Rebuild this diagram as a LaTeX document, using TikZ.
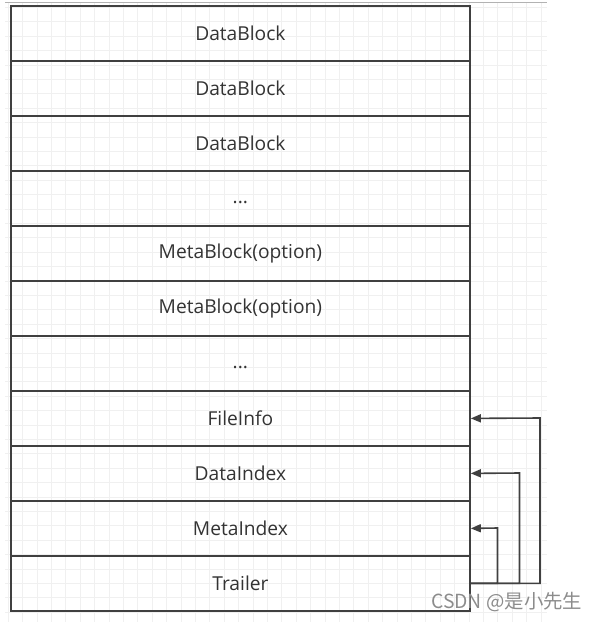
\documentclass[tikz,border=0pt]{standalone}
\usepackage{fontspec}
\setmainfont{Open Sans}
\newfontfamily\cjkfont{Noto Sans CJK SC}
\usetikzlibrary{arrows.meta}
\definecolor{linec}{HTML}{404040}
\definecolor{gridc}{HTML}{F0F0F0}
\tikzset{
  blk/.style={draw=linec, line width=1.8pt, minimum width=459pt, minimum height=55pt, inner sep=0pt, font=\fontsize{19.2}{22}\selectfont, text=black!80, anchor=north west},
  conn/.style={draw=linec, line width=1.6pt, -{Triangle[length=10pt,width=8pt]}},
}
\begin{document}
\begin{tikzpicture}[x=1pt,y=-1pt]
\useasboundingbox (0,0) rectangle (598,622);
% faint background grid
\foreach \i in {0,...,37} {
  \draw[gridc, line width=0.8pt] ({8.1+14.4*\i},3) -- ({8.1+14.4*\i},622);
}
\foreach \j in {0,...,42} {
  \draw[gridc, line width=0.8pt] (5,{7.3+14.4*\j}) -- (547,{7.3+14.4*\j});
}
\draw[gray!60, line width=1pt] (5,2.5) -- (547,2.5);
% blocks
\node[blk] (b1) at (10,5) {DataBlock};
\node[blk] (b2) at (10,60) {DataBlock};
\node[blk] (b3) at (10,115) {DataBlock};
\node[blk, text height=10pt, text depth=0pt] (b4) at (10,170) {...};
\node[blk] (b5) at (10,225) {MetaBlock(option)};
\node[blk] (b6) at (10,280) {MetaBlock(option)};
\node[blk, text height=10pt, text depth=0pt] (b7) at (10,335) {...};
\node[blk] (fi) at (10,390) {FileInfo};
\node[blk] (di) at (10,445) {DataIndex};
\node[blk] (mi) at (10,500) {MetaIndex};
\node[blk] (tr) at (10,555) {Trailer};
% connectors
\coordinate (c1) at (540,418);
\coordinate (c2) at (519.5,473);
\coordinate (c3) at (497.5,528);
\draw[conn] (tr.east) -| (c1) -- (fi.east);
\draw[conn] (tr.east) -| (c2) -- (di.east);
\draw[conn] (tr.east) -| (c3) -- (mi.east);
% watermark
\node[anchor=west, text=black!45, font=\cjkfont\fontsize{19.4}{22}\selectfont, inner sep=0pt] (wm) at (431,602) {CSDN @是小先生};
\end{tikzpicture}
\end{document}
